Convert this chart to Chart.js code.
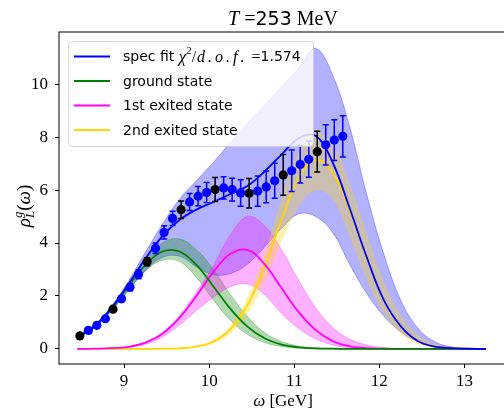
<!DOCTYPE html>
<html>
<head>
<meta charset="utf-8">
<script src="https://cdn.jsdelivr.net/npm/chart.js@4.4.1/dist/chart.umd.min.js"></script>
<style>
  html, body { margin: 0; padding: 0; background: #fff; overflow: hidden; }
</style>
</head>
<body>
<canvas id="chart" width="512" height="411"></canvas>
<script>
// omega grid for the fitted curves (GeV)
const omega = [8.45, 8.65, 8.85, 9.05, 9.25, 9.45, 9.65, 9.85, 10.05, 10.25, 10.45, 10.65, 10.85,
  11.05, 11.25, 11.45, 11.65, 11.85, 12.05, 12.25, 12.45, 12.65, 12.85, 13.05, 13.25];

const specFit = [0.45, 0.85, 1.54, 2.44, 3.41, 4.26, 4.87, 5.26, 5.55, 5.85, 6.15, 6.7, 7.34,
  7.95, 8.05, 7.05, 5.32, 3.48, 1.86, 0.86, 0.3, 0.09, 0.03, 0.01, 0];
const specHi = [0.5, 0.92, 1.62, 2.55, 3.65, 4.7, 5.65, 6.35, 7.05, 7.8, 8.5, 9.2, 9.9,
  10.6, 11.35, 10.35, 8.4, 5.85, 3.6, 1.85, 0.8, 0.27, 0.08, 0.02, 0];
const specLo = [0.42, 0.78, 1.42, 2.2, 2.95, 3.45, 3.5, 3.1, 2.8, 2.85, 3.2, 3.85, 4.55,
  5.1, 5.0, 4.4, 3.2, 2.1, 1.25, 0.65, 0.28, 0.1, 0.03, 0.01, 0];

const ground = [0.42, 0.84, 1.51, 2.36, 3.17, 3.68, 3.68, 3.17, 2.36, 1.51, 0.84, 0.4, 0.16,
  0.06, 0.02, 0.01, 0, 0, 0, 0, 0, 0, 0, 0, 0];
const groundHi = [0.44, 0.88, 1.58, 2.5, 3.4, 4.0, 4.15, 3.75, 3.0, 2.05, 1.22, 0.62, 0.28,
  0.11, 0.04, 0.01, 0, 0, 0, 0, 0, 0, 0, 0, 0];
const groundLo = [0.4, 0.8, 1.45, 2.22, 2.95, 3.35, 3.3, 2.7, 1.85, 1.08, 0.55, 0.24, 0.09,
  0.03, 0.01, 0, 0, 0, 0, 0, 0, 0, 0, 0, 0];

const first = [0, 0.01, 0.03, 0.08, 0.24, 0.57, 1.17, 2.0, 2.91, 3.59, 3.74, 3.2, 2.3,
  1.4, 0.72, 0.3, 0.1, 0.03, 0.01, 0, 0, 0, 0, 0, 0];
const firstHi = [0, 0.01, 0.03, 0.09, 0.26, 0.62, 1.25, 2.15, 3.15, 4.3, 5.0, 4.65, 3.75,
  2.6, 1.55, 0.82, 0.37, 0.15, 0.05, 0.02, 0, 0, 0, 0, 0];
const firstLo = [0, 0, 0.02, 0.06, 0.18, 0.45, 0.9, 1.45, 1.95, 2.35, 2.45, 2.05, 1.35,
  0.78, 0.38, 0.15, 0.05, 0.01, 0, 0, 0, 0, 0, 0, 0];

const second = [0, 0, 0, 0, 0, 0.01, 0.02, 0.09, 0.28, 0.75, 1.66, 3.1, 4.88,
  6.44, 7.14, 6.67, 5.22, 3.45, 1.85, 0.85, 0.3, 0.09, 0.03, 0.01, 0];
const secondHi = [0, 0, 0, 0, 0, 0.01, 0.03, 0.1, 0.32, 0.85, 1.9, 3.5, 5.6,
  7.4, 8.15, 7.7, 6.2, 4.3, 2.5, 1.25, 0.5, 0.17, 0.05, 0.01, 0];
const secondLo = [0, 0, 0, 0, 0, 0, 0.01, 0.07, 0.22, 0.6, 1.35, 2.6, 4.1,
  5.4, 6.0, 5.7, 4.3, 2.7, 1.4, 0.6, 0.2, 0.06, 0.02, 0, 0];

// lattice data points
const pointOmega = [8.48, 8.58, 8.68, 8.78, 8.87, 8.97, 9.07, 9.17, 9.27, 9.37, 9.47, 9.57,
  9.67, 9.77, 9.87, 9.97, 10.07, 10.17, 10.27, 10.37, 10.47, 10.57, 10.67, 10.77,
  10.87, 10.97, 11.07, 11.17, 11.27, 11.37, 11.47, 11.57];
const pointRho = [0.49, 0.7, 0.89, 1.14, 1.5, 1.89, 2.33, 2.82, 3.29, 3.8, 4.4, 4.93,
  5.26, 5.55, 5.77, 5.91, 6.02, 6.08, 6.02, 5.89, 5.88, 5.96, 6.12, 6.35,
  6.57, 6.73, 6.97, 7.16, 7.45, 7.71, 7.89, 8.03];
const pointErr = [0.05, 0.05, 0.06, 0.07, 0.08, 0.1, 0.13, 0.17, 0.15, 0.2, 0.25, 0.27,
  0.33, 0.32, 0.36, 0.38, 0.45, 0.42, 0.43, 0.5, 0.56, 0.57, 0.6, 0.66,
  0.77, 0.78, 0.7, 0.68, 0.77, 0.76, 0.77, 0.78];
const blackIdx = [0, 4, 8, 12, 16, 20, 24, 28];

const xTicks = [9, 10, 11, 12, 13];
const yTicks = [0, 2, 4, 6, 8, 10];

const SERIF = '"Liberation Serif"';
const SANS = '"DejaVu Sans"';

const pts = (ys) => omega.map((x, i) => ({ x: x, y: ys[i] }));
const blueData = [], blackData = [];
pointOmega.forEach((x, i) => {
  const p = { x: x, y: pointRho[i], err: pointErr[i] };
  if (blackIdx.includes(i)) blackData.push(p); else blueData.push(p);
});

const curve = (ys, color) => ({
  data: pts(ys), showLine: true, borderColor: color, borderWidth: 1.8,
  pointRadius: 0, fill: false, tension: 0.4
});
const band = (ys, color, fill) => ({
  data: pts(ys), showLine: true, borderColor: color, borderWidth: 1,
  backgroundColor: color, pointRadius: 0, fill: fill, tension: 0.4
});
const marks = (data, color) => ({
  data: data, showLine: false, pointRadius: 4.6, pointHoverRadius: 4.6,
  pointBackgroundColor: color, pointBorderColor: color, pointBorderWidth: 0
});

// draw text pieces (mixed fonts) one after another; sp = extra gap per character
function runWidth(ctx, r) {
  ctx.font = r.f;
  if (!r.sp) return ctx.measureText(r.t).width;
  return [...r.t].reduce((s, c) => s + ctx.measureText(c).width + r.sp, 0);
}
function drawRuns(ctx, runs, x, y, align) {
  let w = 0;
  runs.forEach(r => {
    r.w = runWidth(ctx, r);
    if (!r.hold) w += r.w;
  });
  let cx = align === 'center' ? x - w / 2 : x;
  runs.forEach(r => {
    ctx.font = r.f;
    if (r.sp) {
      let c0 = cx;
      [...r.t].forEach(c => {
        ctx.fillText(c, c0, y + (r.dy || 0));
        c0 += ctx.measureText(c).width + r.sp;
      });
    } else {
      ctx.fillText(r.t, cx, y + (r.dy || 0));
    }
    if (!r.hold) cx += r.w;
  });
}

const errorBars = {
  id: 'errorBars',
  beforeDatasetDraw(chart, args) {
    if (args.index > 1) return;
    const ctx = chart.ctx, xs = chart.scales.x, ys = chart.scales.y;
    const color = args.index === 0 ? '#0000ff' : '#000000';
    ctx.save();
    ctx.strokeStyle = color;
    ctx.lineWidth = 1.5;
    chart.data.datasets[args.index].data.forEach(p => {
      const px = xs.getPixelForValue(p.x);
      const top = ys.getPixelForValue(p.y + p.err);
      const bot = ys.getPixelForValue(p.y - p.err);
      ctx.beginPath();
      ctx.moveTo(px, top); ctx.lineTo(px, bot);
      ctx.moveTo(px - 3, top); ctx.lineTo(px + 3, top);
      ctx.moveTo(px - 3, bot); ctx.lineTo(px + 3, bot);
      ctx.stroke();
    });
    ctx.restore();
  }
};

const legendItems = [
  { color: '#0000ff', runs: [
    { t: 'spec fit ', f: '14px ' + SANS },
    { t: 'χ', f: 'italic 17px ' + SERIF },
    { t: '2', f: '11px ' + SERIF, dy: -6 },
    { t: '/', f: '16px ' + SERIF, sp: 1 },
    { t: 'd.o.f.', f: 'italic 16px ' + SERIF, sp: 3 },
    { t: ' =', f: '16px ' + SERIF },
    { t: '1.574', f: '14px ' + SANS }
  ] },
  { color: '#008000', runs: [{ t: 'ground state', f: '14px ' + SANS }] },
  { color: '#ff00ff', runs: [{ t: '1st exited state', f: '14px ' + SANS }] },
  { color: '#ffd700', runs: [{ t: '2nd exited state', f: '14px ' + SANS }] }
];

const decorations = {
  id: 'decorations',
  afterDraw(chart) {
    const ctx = chart.ctx, a = chart.chartArea;
    ctx.save();
    // axes frame
    ctx.strokeStyle = '#000';
    ctx.lineWidth = 1;
    ctx.strokeRect(a.left, a.top, a.right - a.left, a.bottom - a.top);

    // legend
    const lx = 68, ly = 41, lw = 245, lh = 105;
    ctx.beginPath();
    ctx.roundRect(lx + 0.5, ly + 0.5, lw, lh, 4);
    ctx.fillStyle = 'rgba(255,255,255,0.8)';
    ctx.fill();
    ctx.strokeStyle = 'rgba(204,204,204,0.8)';
    ctx.stroke();
    ctx.textBaseline = 'middle';
    legendItems.forEach((item, i) => {
      const y = 56.5 + i * 24.5;
      ctx.strokeStyle = item.color;
      ctx.lineWidth = 2;
      ctx.beginPath();
      ctx.moveTo(74, y); ctx.lineTo(110, y);
      ctx.stroke();
      ctx.fillStyle = '#000';
      drawRuns(ctx, item.runs, 123, y + 1, 'left');
    });

    // title
    ctx.textBaseline = 'alphabetic';
    drawRuns(ctx, [
      { t: 'T', f: 'italic 20px ' + SERIF },
      { t: ' =', f: '20px ' + SERIF },
      { t: '253', f: '19px ' + SANS },
      { t: ' MeV', f: '20px ' + SERIF }
    ], (a.left + a.right) / 2, 25, 'center');

    // x label
    drawRuns(ctx, [
      { t: 'ω', f: 'italic 17px ' + SERIF },
      { t: ' [GeV]', f: '17px ' + SERIF }
    ], (a.left + a.right) / 2, 406, 'center');

    // y label
    ctx.translate(30, 206);
    ctx.rotate(-Math.PI / 2);
    drawRuns(ctx, [
      { t: 'ρ', f: 'italic 19px ' + SERIF },
      { t: 'g', f: 'italic 13px ' + SERIF, dy: -8, hold: true },
      { t: 'L', f: 'italic 13px ' + SERIF, dy: 4 },
      { t: '(', f: '19px ' + SERIF },
      { t: 'ω', f: 'italic 19px ' + SERIF },
      { t: ')', f: '19px ' + SERIF }
    ], 0, 0, 'center');
    ctx.restore();
  }
};

new Chart(document.getElementById('chart'), {
  type: 'scatter',
  data: {
    datasets: [
      marks(blueData, '#0000ff'),
      marks(blackData, '#000000'),
      curve(specFit, '#0000ff'),
      curve(ground, '#008000'),
      curve(first, '#ff00ff'),
      curve(second, '#ffd700'),
      band(secondHi, 'rgba(255,215,0,0.3)', '+1'),
      band(secondLo, 'rgba(255,215,0,0.3)', false),
      band(firstHi, 'rgba(255,0,255,0.3)', '+1'),
      band(firstLo, 'rgba(255,0,255,0.3)', false),
      band(groundHi, 'rgba(0,128,0,0.3)', '+1'),
      band(groundLo, 'rgba(0,128,0,0.3)', false),
      band(specHi, 'rgba(0,0,255,0.3)', '+1'),
      band(specLo, 'rgba(0,0,255,0.3)', false)
    ]
  },
  options: {
    responsive: false,
    animation: false,
    layout: { padding: { top: 32, right: 5, left: 0, bottom: 0 } },
    plugins: { legend: { display: false }, tooltip: { enabled: false } },
    scales: {
      x: {
        type: 'linear', min: 8.235, max: 13.5,
        afterFit: (s) => { s.height = 47; },
        afterBuildTicks: (s) => { s.ticks = xTicks.map(v => ({ value: v })); },
        border: { display: false },
        grid: { drawOnChartArea: false, drawTicks: true, tickLength: 4, color: '#000' },
        ticks: { color: '#000', padding: 3, maxRotation: 0, font: { family: 'Liberation Serif', size: 17 } }
      },
      y: {
        type: 'linear', min: -0.57, max: 11.97,
        afterFit: (s) => { s.width = 59; },
        afterBuildTicks: (s) => { s.ticks = yTicks.map(v => ({ value: v })); },
        border: { display: false },
        grid: { drawOnChartArea: false, drawTicks: true, tickLength: 4, color: '#000' },
        ticks: { color: '#000', padding: 7, font: { family: 'Liberation Serif', size: 17 } }
      }
    }
  },
  plugins: [errorBars, decorations]
});
</script>
</body>
</html>
